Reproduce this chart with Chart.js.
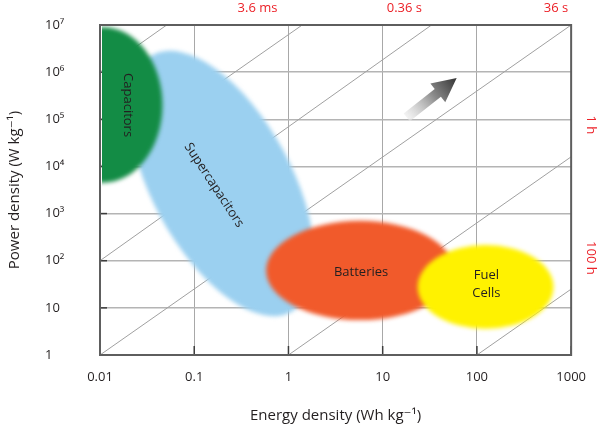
<!DOCTYPE html>
<html>
<head>
<meta charset="utf-8">
<script src="https://cdn.jsdelivr.net/npm/chart.js@4.4.1/dist/chart.umd.min.js"></script>
<style>
  html, body { margin: 0; padding: 0; background: #fff; }
  #c { display: block; }
</style>
</head>
<body>
<canvas id="c" width="600" height="427"></canvas>
<script>
// axes
const energyTicks = [0.01, 0.1, 1, 10, 100, 1000];
const energyTickLabels = ['0.01', '0.1', '1', '10', '100', '1000'];
const powerTicks = [1, 10, 1e2, 1e3, 1e4, 1e5, 1e6, 1e7];
const powerTickLabels = ['1', '10', '10²', '10³', '10⁴', '10⁵', '10⁶', '10⁷'];

// constant-time lines, [energy, power] at each end
const timeLines = [
  [[0.01, 1e6], [0.051, 1e7]],
  [[0.01, 1e4], [1.4, 1e7]],
  [[0.01, 1e2], [33, 1e7]],
  [[0.01, 1], [1000, 1e7]],
  [[1, 1], [1000, 1.6e4]],
  [[100, 1], [1000, 25]]
];
const topTimeLabels = ['3.6 ms', '0.36 s', '36 s'];
const topTimeEnergy = [0.47, 17, 690];
const rightTimeLabels = ['1 h', '100 h'];
const rightTimePower = [7.6e4, 115];

// regions drawn as ellipses: energy range, power range
const regionNames = ['Capacitors', 'Batteries', 'Fuel Cells'];
const regionEnergy = [[0.0025, 0.046], [0.58, 57], [23.5, 650]];
const regionPower = [[4.5e3, 9e6], [5.5, 700], [3.6, 215]];
const regionColors = ['#138c45', '#f15a2b', '#fff200'];
const regionLabelPos = [[0.0198, 2e5], [5.9, 57], [126, 32]];

// supercapacitors: tilted ellipse, ends of long and short axis
const superLong = [[0.036, 2.3e6], [1.07, 8.2]];
const superShort = [[0.042, 1000], [0.86, 2.4e4]];
const superLabelPos = [0.162, 4000];

// arrow, tail -> tip
const arrowTail = [18, 1.1e5];
const arrowTip = [61, 7.5e5];

const FONT = '"Open Sans", "DejaVu Sans", sans-serif';
const TEXT = '#231f20';

function px(chart, e, p) {
  return [chart.scales.x.getPixelForValue(e), chart.scales.y.getPixelForValue(p)];
}

function blob(ctx, cx, cy, rx, ry, rot, color) {
  ctx.save();
  ctx.filter = 'blur(2px)';
  ctx.fillStyle = color;
  ctx.beginPath();
  ctx.ellipse(cx, cy, rx, ry, rot, 0, Math.PI * 2);
  ctx.fill();
  ctx.restore();
}

function rotText(ctx, str, x, y, ang) {
  ctx.save();
  ctx.translate(x, y);
  ctx.rotate(ang);
  ctx.fillText(str, 0, 0);
  ctx.restore();
}

const ragone = {
  id: 'ragone',
  beforeDatasetsDraw(chart) {
    // short inner tick marks
    const ctx = chart.ctx, a = chart.chartArea;
    ctx.save();
    ctx.strokeStyle = '#3c3c3c';
    ctx.lineWidth = 1.5;
    powerTicks.forEach(v => {
      const y = chart.scales.y.getPixelForValue(v);
      ctx.beginPath(); ctx.moveTo(a.left, y); ctx.lineTo(a.left + 7, y); ctx.stroke();
    });
    energyTicks.forEach(v => {
      const x = chart.scales.x.getPixelForValue(v);
      ctx.beginPath(); ctx.moveTo(x, a.bottom); ctx.lineTo(x, a.bottom - 9); ctx.stroke();
    });
    ctx.restore();
  },
  afterDatasetsDraw(chart) {
    const ctx = chart.ctx, a = chart.chartArea;
    ctx.save();
    ctx.beginPath();
    ctx.rect(a.left + 2, a.top, a.right - a.left - 2, a.bottom - a.top);
    ctx.clip();

    // supercapacitors first, the others lie over it
    const l1 = px(chart, superLong[0][0], superLong[0][1]);
    const l2 = px(chart, superLong[1][0], superLong[1][1]);
    const s1 = px(chart, superShort[0][0], superShort[0][1]);
    const s2 = px(chart, superShort[1][0], superShort[1][1]);
    const rot = Math.atan2(l2[1] - l1[1], l2[0] - l1[0]);
    blob(ctx, (l1[0] + l2[0]) / 2, (l1[1] + l2[1]) / 2,
      Math.hypot(l2[0] - l1[0], l2[1] - l1[1]) / 2,
      Math.hypot(s2[0] - s1[0], s2[1] - s1[1]) / 2, rot, '#9bd0f0');

    regionNames.forEach((n, i) => {
      const p1 = px(chart, regionEnergy[i][0], regionPower[i][0]);
      const p2 = px(chart, regionEnergy[i][1], regionPower[i][1]);
      blob(ctx, (p1[0] + p2[0]) / 2, (p1[1] + p2[1]) / 2,
        Math.abs(p2[0] - p1[0]) / 2, Math.abs(p2[1] - p1[1]) / 2, 0, regionColors[i]);
    });
    ctx.restore();

    // region labels
    ctx.save();
    ctx.fillStyle = TEXT;
    ctx.font = '13px ' + FONT;
    ctx.textAlign = 'center';
    ctx.textBaseline = 'middle';
    let p = px(chart, regionLabelPos[0][0], regionLabelPos[0][1]);
    rotText(ctx, regionNames[0], p[0], p[1], Math.PI / 2);
    p = px(chart, superLabelPos[0], superLabelPos[1]);
    rotText(ctx, 'Supercapacitors', p[0], p[1], 0.99);
    p = px(chart, regionLabelPos[1][0], regionLabelPos[1][1]);
    ctx.fillText(regionNames[1], p[0], p[1]);
    p = px(chart, regionLabelPos[2][0], regionLabelPos[2][1]);
    const words = regionNames[2].split(' ');
    ctx.fillText(words[0], p[0], p[1] - 9);
    ctx.fillText(words[1], p[0], p[1] + 9);
    ctx.restore();

    // arrow
    const t = px(chart, arrowTail[0], arrowTail[1]);
    const h = px(chart, arrowTip[0], arrowTip[1]);
    const len = Math.hypot(h[0] - t[0], h[1] - t[1]);
    const ux = (h[0] - t[0]) / len, uy = (h[1] - t[1]) / len;
    const nx = -uy, ny = ux;
    const hb = [h[0] - ux * 24, h[1] - uy * 24];
    const g = ctx.createLinearGradient(t[0], t[1], h[0], h[1]);
    g.addColorStop(0, 'rgba(235,235,235,0.6)');
    g.addColorStop(0.55, '#8a8a8a');
    g.addColorStop(1, '#353535');
    ctx.save();
    ctx.fillStyle = g;
    ctx.beginPath();
    ctx.moveTo(t[0] + nx * 5, t[1] + ny * 5);
    ctx.lineTo(hb[0] + nx * 5, hb[1] + ny * 5);
    ctx.lineTo(hb[0] + nx * 12, hb[1] + ny * 12);
    ctx.lineTo(h[0], h[1]);
    ctx.lineTo(hb[0] - nx * 12, hb[1] - ny * 12);
    ctx.lineTo(hb[0] - nx * 5, hb[1] - ny * 5);
    ctx.lineTo(t[0] - nx * 5, t[1] - ny * 5);
    ctx.closePath();
    ctx.fill();
    ctx.restore();

    // frame
    ctx.save();
    ctx.strokeStyle = '#5e5e5e';
    ctx.lineWidth = 2;
    ctx.strokeRect(a.left, a.top, a.right - a.left, a.bottom - a.top);
    ctx.restore();
  },
  afterDraw(chart) {
    const ctx = chart.ctx, a = chart.chartArea;
    ctx.save();
    ctx.textAlign = 'center';
    ctx.textBaseline = 'middle';
    ctx.fillStyle = TEXT;
    ctx.font = '15px ' + FONT;
    ctx.fillText('Energy density (Wh kg⁻¹)', (a.left + a.right) / 2, 416);
    rotText(ctx, 'Power density (W kg⁻¹)', 15, (a.top + a.bottom) / 2, -Math.PI / 2);

    ctx.fillStyle = '#ec2027';
    ctx.font = '13px ' + FONT;
    topTimeLabels.forEach((s, i) => {
      ctx.fillText(s, chart.scales.x.getPixelForValue(topTimeEnergy[i]), 8);
    });
    rightTimeLabels.forEach((s, i) => {
      rotText(ctx, s, 591, chart.scales.y.getPixelForValue(rightTimePower[i]), Math.PI / 2);
    });
    ctx.restore();
  }
};

new Chart(document.getElementById('c'), {
  type: 'scatter',
  data: {
    datasets: timeLines.map(l => ({
      data: l.map(q => ({ x: q[0], y: q[1] })),
      showLine: true,
      borderColor: '#a0a0a0',
      borderWidth: 1,
      pointRadius: 0,
      fill: false
    }))
  },
  options: {
    responsive: false,
    animation: false,
    devicePixelRatio: 1,
    layout: { padding: { top: 25, right: 27, left: 45, bottom: 0 } },
    plugins: { legend: { display: false }, tooltip: { enabled: false } },
    scales: {
      x: {
        type: 'logarithmic',
        min: 0.01,
        max: 1000,
        afterBuildTicks: s => { s.ticks = energyTicks.map(v => ({ value: v })); },
        afterFit: s => { s.height = 72; },
        ticks: {
          callback: (v, i) => energyTickLabels[i],
          padding: 14,
          maxRotation: 0,
          autoSkip: false,
          color: TEXT,
          font: { family: FONT, size: 13 }
        },
        grid: { color: '#a8a8a8', lineWidth: 1, drawTicks: false },
        border: { color: '#5e5e5e', width: 2 }
      },
      y: {
        type: 'logarithmic',
        min: 1,
        max: 1e7,
        afterBuildTicks: s => { s.ticks = powerTicks.map(v => ({ value: v })); },
        afterFit: s => { s.width = 55; },
        ticks: {
          callback: (v, i) => powerTickLabels[i],
          crossAlign: 'far',
          autoSkip: false,
          color: TEXT,
          font: { family: FONT, size: 13 }
        },
        grid: { color: '#b4b4b4', lineWidth: 1.5, drawTicks: false },
        border: { color: '#5e5e5e', width: 2 }
      }
    }
  },
  plugins: [ragone]
});
</script>
</body>
</html>
